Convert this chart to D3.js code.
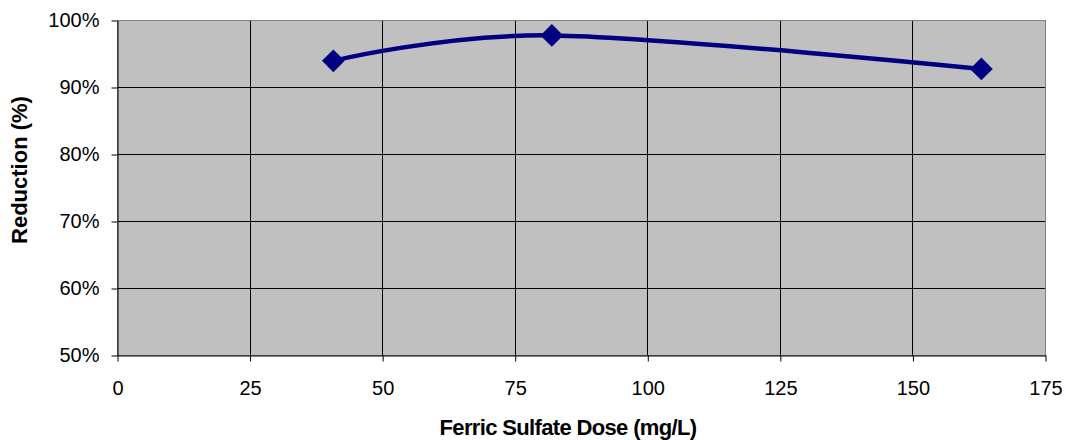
<!DOCTYPE html>
<html>
<head>
<meta charset="utf-8">
<script src="https://cdn.jsdelivr.net/npm/d3@7"></script>
<style>
  body { margin: 0; background: #fff; }
  text { font-family: "Liberation Sans", Arial, sans-serif; fill: #000; }
</style>
</head>
<body>
<svg id="chart" width="1066" height="440"></svg>
<script>
// data
let dose = [40.8, 82, 163];
let reduction = [0.939, 0.977, 0.927];
let x_ticks = [0, 25, 50, 75, 100, 125, 150, 175];
let y_ticks = [0.5, 0.6, 0.7, 0.8, 0.9, 1.0];

let LEFT = 117, RIGHT = 1045, TOP = 20, BOTTOM = 355;

let svg = d3.select('#chart');

let xScale = d3.scaleLinear().domain([0, 175]).range([LEFT, RIGHT]);
let yScale = d3.scaleLinear().domain([0.5, 1.0]).range([BOTTOM, TOP]);

// plot background
svg.append('rect')
    .attr('x', LEFT).attr('y', TOP)
    .attr('width', RIGHT - LEFT).attr('height', BOTTOM - TOP)
    .attr('fill', '#c0c0c0');

// grid lines
svg.append('g').selectAll('line')
    .data(x_ticks.slice(1, -1))
    .join('line')
    .attr('x1', d => Math.round(xScale(d)) + 0.5).attr('x2', d => Math.round(xScale(d)) + 0.5)
    .attr('y1', TOP).attr('y2', BOTTOM)
    .attr('stroke', '#000').attr('stroke-width', 1);

svg.append('g').selectAll('line')
    .data(y_ticks.slice(1, -1))
    .join('line')
    .attr('x1', LEFT).attr('x2', RIGHT)
    .attr('y1', d => Math.round(yScale(d)) + 0.5).attr('y2', d => Math.round(yScale(d)) + 0.5)
    .attr('stroke', '#000').attr('stroke-width', 1);

// border
svg.append('rect')
    .attr('x', LEFT + 0.5).attr('y', TOP + 0.5)
    .attr('width', RIGHT - LEFT).attr('height', BOTTOM - TOP)
    .attr('fill', 'none')
    .attr('stroke', '#808080').attr('stroke-width', 1);

// axes
let xAxis = svg.append('g')
    .attr('transform', `translate(0.5,${BOTTOM + 0.5})`)
    .call(d3.axisBottom(xScale).tickValues(x_ticks).tickSize(6).tickSizeOuter(0).tickPadding(19));
let yAxis = svg.append('g')
    .attr('transform', `translate(${LEFT + 0.5},0.5)`)
    .call(d3.axisLeft(yScale).tickValues(y_ticks).tickFormat(d3.format('.0%')).tickSize(6).tickSizeOuter(0).tickPadding(12));

[xAxis, yAxis].forEach(ax => {
    ax.select('.domain').attr('stroke', '#000');
    ax.selectAll('.tick line').attr('stroke', '#000');
    ax.selectAll('.tick text')
        .style('font-family', '"Liberation Sans", Arial, sans-serif')
        .style('font-size', '20px')
        .attr('fill', '#000');
});

// axis titles
svg.append('text')
    .attr('x', 568).attr('y', 435)
    .attr('text-anchor', 'middle')
    .style('font-size', '22px').style('font-weight', 'bold')
    .style('letter-spacing', '-0.65px')
    .text('Ferric Sulfate Dose (mg/L)');

svg.append('text')
    .attr('transform', 'translate(27,170) rotate(-90)')
    .attr('text-anchor', 'middle')
    .style('font-size', '22px').style('font-weight', 'bold')
    .text('Reduction (%)');

// smoothed series line
let points = dose.map((d, i) => [d, reduction[i]]);
let line = d3.line()
    .x(d => xScale(d[0]))
    .y(d => yScale(d[1]))
    .curve(d3.curveCardinal.tension(0));

svg.append('path')
    .datum(points)
    .attr('d', line)
    .attr('fill', 'none')
    .attr('stroke', '#000080')
    .attr('stroke-width', 4.5)
    .attr('stroke-linejoin', 'round');

// diamond markers
svg.append('g').selectAll('path')
    .data(points)
    .join('path')
    .attr('d', d3.symbol().type(d3.symbolSquare).size(260))
    .attr('transform', d => `translate(${xScale(d[0])},${yScale(d[1])}) rotate(45)`)
    .attr('fill', '#000080');
</script>
</body>
</html>
